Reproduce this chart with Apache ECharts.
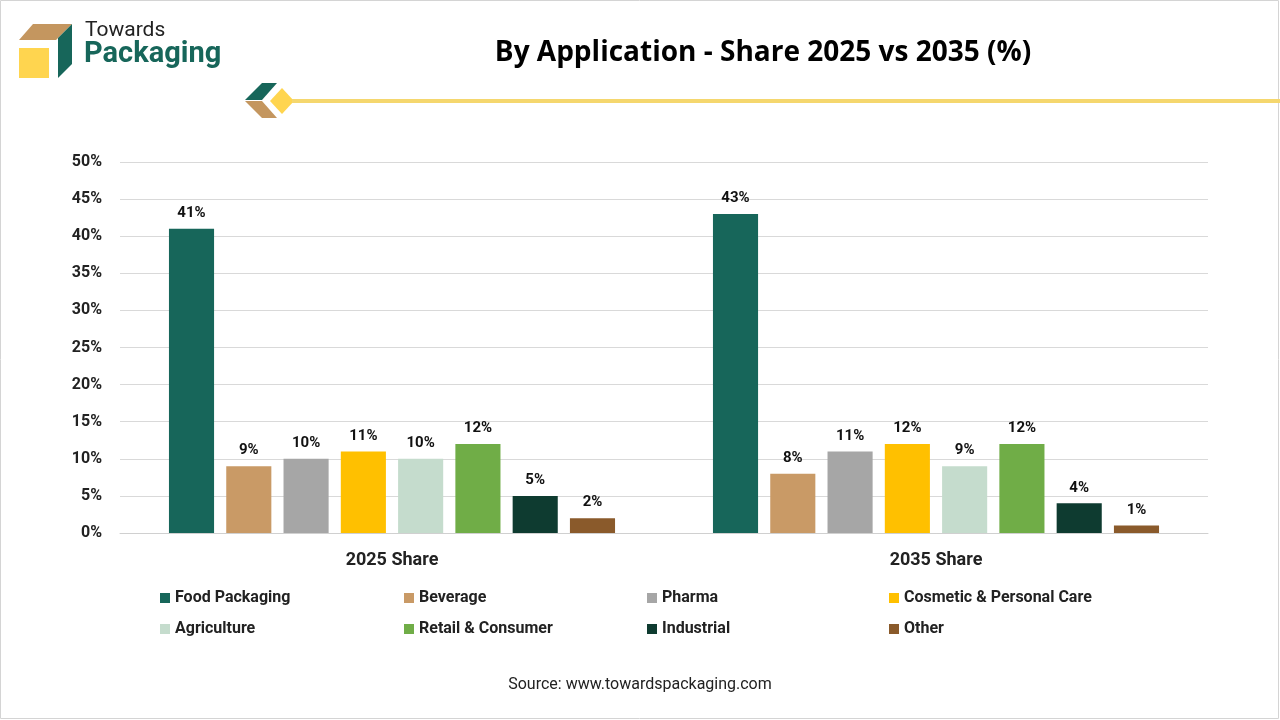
<!DOCTYPE html>
<html><head><meta charset="utf-8">
<script src="https://cdn.jsdelivr.net/npm/echarts@6/dist/echarts.min.js"></script>
<style>html,body{margin:0;padding:0;background:#fff}#main{width:1280px;height:720px}</style>
</head><body><div id="main"></div>
<script>
// data
var categories = ['2025 Share', '2035 Share'];
var seriesNames = ['Food Packaging', 'Beverage', 'Pharma', 'Cosmetic & Personal Care', 'Agriculture', 'Retail & Consumer', 'Industrial', 'Other'];
var share2025 = [41, 9, 10, 11, 10, 12, 5, 2];
var share2035 = [43, 8, 11, 12, 9, 12, 4, 1];
var colors = ['#17665a', '#c99a66', '#a6a6a6', '#ffc000', '#c5dccd', '#70ad47', '#0e3b30', '#8a5a2b'];
var legendX = [155, 399, 642, 884];
var legendY = [585, 616];

var myChart = echarts.init(document.getElementById('main'));
var font = 'Roboto, "DejaVu Sans", sans-serif';

var series = [];
var legends = [];
for (var i = 0; i < seriesNames.length; i++) {
    series.push({
        name: seriesNames[i],
        type: 'bar',
        barGap: '27%',
        barCategoryGap: '18%',
        itemStyle: {color: colors[i]},
        label: {show: true, position: 'top', formatter: '{c}%', color: '#111', fontSize: 15, fontWeight: 'bold', fontFamily: font, distance: 8},
        data: [share2025[i], share2035[i]]
    });
    legends.push({
        data: [seriesNames[i]],
        left: legendX[i % 4], top: legendY[Math.floor(i / 4)],
        icon: 'rect', itemWidth: 10, itemHeight: 10,
        textStyle: {fontSize: 16, fontWeight: 'bold', color: '#222', fontFamily: font},
        selectedMode: false
    });
}

var option = {
    animation: false,
    color: colors,
    title: {
        text: 'By Application - Share 2025 vs 2035 (%)',
        left: 758, top: 34, textAlign: 'center',
        textStyle: {fontSize: 28, fontWeight: 'bold', color: '#000', fontFamily: '"Open Sans", Roboto, sans-serif'}
    },
    legend: legends,
    grid: {left: 120, right: 72, top: 162, bottom: 187},
    xAxis: {
        type: 'category',
        data: categories,
        axisLine: {lineStyle: {color: '#d0d0d0'}},
        axisTick: {show: false},
        axisLabel: {fontSize: 18, fontWeight: 'bold', color: '#222', margin: 18, fontFamily: font}
    },
    yAxis: {
        type: 'value', min: 0, max: 50, interval: 5,
        axisLabel: {formatter: '{value}%', fontSize: 16, fontWeight: 'bold', color: '#222', margin: 18, fontFamily: font},
        splitLine: {lineStyle: {color: '#d9d9d9'}},
        axisLine: {show: false}, axisTick: {show: false}
    },
    graphic: [
        {type: 'rect', shape: {x: 0.5, y: 0.5, width: 1278, height: 718}, style: {fill: 'none', stroke: '#d4d4d4'}, silent: true},
        // logo
        {type: 'polygon', shape: {points: [[33, 24], [72, 24], [56, 40], [19, 40]]}, style: {fill: '#c4965f'}},
        {type: 'rect', shape: {x: 19, y: 48, width: 30, height: 30}, style: {fill: '#ffd54f'}},
        {type: 'polygon', shape: {points: [[72, 24], [72, 64], [58, 78], [58, 38]]}, style: {fill: '#17665a'}},
        {type: 'text', left: 85, top: 20, style: {text: 'Towards', fontSize: 21, fill: '#222', fontFamily: font}},
        {type: 'text', left: 84, top: 40, style: {text: 'Packaging', fontSize: 29, fontWeight: 'bold', fill: '#17665a', fontFamily: font}},
        // decoration
        {type: 'polygon', shape: {points: [[262, 83], [277, 83], [262, 100], [245, 100]]}, style: {fill: '#17665a'}},
        {type: 'polygon', shape: {points: [[245, 101], [262, 101], [277, 118], [262, 118]]}, style: {fill: '#c4965f'}},
        {type: 'polygon', shape: {points: [[282, 88], [294, 101], [282, 114], [270, 101]]}, style: {fill: '#ffd54f'}},
        {type: 'rect', shape: {x: 292, y: 99, width: 988, height: 4}, style: {fill: '#f5d76e'}},
        {type: 'text', left: 'center', top: 677, style: {text: 'Source: www.towardspackaging.com', fontSize: 16, fill: '#222', fontFamily: font}}
    ],
    series: series
};
myChart.setOption(option);
</script></body></html>
